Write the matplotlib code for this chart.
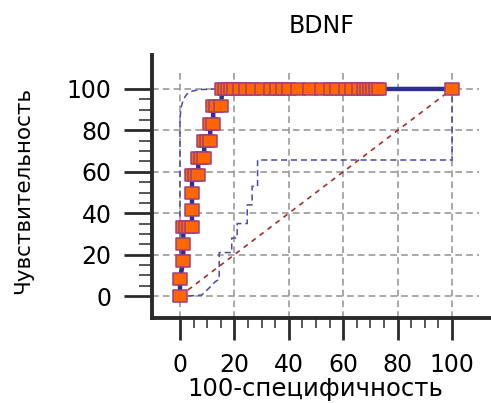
import numpy as np
import matplotlib
matplotlib.use("Agg")
import matplotlib.pyplot as plt
from matplotlib.path import Path
from matplotlib.ticker import FixedLocator

# ROC points (100-specificity, sensitivity)
roc_x = [0, 0, 1.2, 1.2, 1.2, 2.2, 3.3, 4.4, 4.4, 4.4, 4.4, 5.6, 6.7,
         6.7, 7.8, 8.9, 8.9, 10.0, 11.1, 11.1, 12.2, 12.2, 13.3, 15.0,
         15.6, 16.7, 17.8, 18.9, 20.0, 22.2, 24.4, 26.7, 30.0, 33.3, 35.6,
         37.8, 40.0, 43.3, 47.8, 52.2, 55.6, 57.8, 61.1, 63.3, 65.6, 67.8,
         68.9, 70.0, 71.1, 72.2, 73.3, 100]
roc_y = [0, 8.3, 16.7, 25, 33.3, 33.3, 33.3, 33.3, 41.7, 50, 58.3, 58.3, 58.3,
         66.7, 66.7, 66.7, 75, 75, 75, 83.3, 83.3, 91.7, 91.7, 91.7,
         100, 100, 100, 100, 100, 100, 100, 100, 100, 100, 100,
         100, 100, 100, 100, 100, 100, 100, 100, 100, 100, 100,
         100, 100, 100, 100, 100, 100]

# confidence bounds
upper_x = [0, 0, 0.4, 1.2, 2.5, 4.5, 7.5, 13]
upper_y = [0, 86, 91, 95, 97.5, 99, 99.7, 100]
lower_x = [3, 8, 10, 13, 14.4, 14.4, 19, 19, 21, 21, 24.7, 24.7, 26.5, 26.5,
           28.5, 28.5, 100, 100]
lower_y = [0, 0.5, 3, 7, 8, 21, 21, 28, 28, 35, 35, 44, 44, 53, 53,
           65.7, 65.7, 100]

ticks = [0, 20, 40, 60, 80, 100]
minor_ticks = [5, 10, 15, 25, 30, 35, 45, 50, 55, 65, 70, 75, 85, 90, 95]

fig = plt.figure(figsize=(4.91, 4.03), dpi=100)
ax = fig.add_axes([152/491, 85/403, 339/491, 263/403])
ax.set_xlim(-10.3, 114.3)
ax.set_ylim(-10.6, 116.4)

grid_kw = dict(color="#9a9a9a", lw=1.2, linestyle=(0, (4, 2.5)), zorder=1)
ax.hlines(ticks, -10.3, 110, **grid_kw)
ax.vlines(ticks, -10.6, 108, **grid_kw)

ax.plot([0, 100], [0, 100], color="#a0302a", lw=1.2,
        linestyle=(0, (3, 3)), zorder=2)
ax.plot(upper_x, upper_y, color="#4a4aa8", lw=1.1,
        linestyle=(0, (4, 2.5)), zorder=2)
ax.plot(lower_x, lower_y, color="#4a4aa8", lw=1.1,
        linestyle=(0, (4, 2.5)), zorder=2)

rect = Path([[-1, -0.78], [1, -0.78], [1, 0.78], [-1, 0.78], [-1, -0.78]],
            [Path.MOVETO, Path.LINETO, Path.LINETO, Path.LINETO, Path.CLOSEPOLY])
ax.plot(roc_x, roc_y, color="#2e2e96", lw=3.2, zorder=3,
        marker=rect, markersize=10.5, markerfacecolor="#ff6600",
        markeredgecolor="#a0407a", markeredgewidth=1.1)

for s in ["top", "right"]:
    ax.spines[s].set_visible(False)
for s in ["left", "bottom"]:
    ax.spines[s].set_linewidth(2.8)
    ax.spines[s].set_color("#2a2a2a")

ax.set_xticks(ticks)
ax.set_yticks(ticks)
ax.xaxis.set_minor_locator(FixedLocator(minor_ticks))
ax.yaxis.set_minor_locator(FixedLocator(minor_ticks))
ax.tick_params(axis="y", which="major", length=20, width=2.0, pad=9,
               labelsize=17, color="#2a2a2a")
ax.tick_params(axis="y", which="minor", length=9.5, width=1.1, color="#2a2a2a")
ax.tick_params(axis="x", which="major", length=16, width=2.0, pad=9,
               labelsize=17, color="#2a2a2a")
ax.tick_params(axis="x", which="minor", length=7, width=1.1, color="#2a2a2a")

ax.set_title("BDNF", fontsize=17, pad=16)
ax.set_xlabel("100-специфичность", fontsize=17.5)
ax.xaxis.label.set_va("baseline")
ax.xaxis.set_label_coords(0.48, -0.297)
ax.set_ylabel("Чувствительность", fontsize=15.5)
ax.yaxis.set_label_coords(-0.35, 0.483)

fig.savefig("out.png", dpi=100)
